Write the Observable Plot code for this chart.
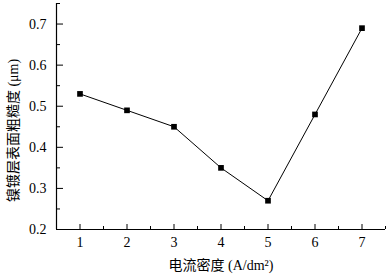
<!DOCTYPE html>
<html><head><meta charset="utf-8">
<script src="https://cdn.jsdelivr.net/npm/d3@7"></script>
<script src="https://cdn.jsdelivr.net/npm/@observablehq/plot@0.6"></script>
<style>body{margin:0;background:#fff}</style>
</head><body><div id="chart"></div>
<script>
const currentDensity = [1, 2, 3, 4, 5, 6, 7];
const roughness = [0.53, 0.49, 0.45, 0.35, 0.27, 0.48, 0.69];
const xTicks = [1, 2, 3, 4, 5, 6, 7];
const xMinorTicks = [1.5, 2.5, 3.5, 4.5, 5.5, 6.5, 7.5];
const yTicks = [0.2, 0.3, 0.4, 0.5, 0.6, 0.7];
const yMinorTicks = [0.25, 0.35, 0.45, 0.55, 0.65, 0.75];
const xLabel = "电流密度 (A/dm²)";
const yLabel = "镍镀层表面粗糙度 (μm)";

const data = currentDensity.map((x, i) => ({x, y: roughness[i]}));
const font = "'Liberation Serif','Noto Sans CJK SC',serif";

const chart = Plot.plot({
  width: 387, height: 277,
  marginLeft: 56, marginRight: 2, marginTop: 3, marginBottom: 48,
  style: {fontFamily: font, fontSize: "14px", color: "#000", background: "#fff"},
  x: {domain: [0.5, 7.5]},
  y: {domain: [0.2, 0.75]},
  marks: [
    Plot.axisX(xTicks, {tickSize: -5, tickFormat: () => "", label: null}),
    Plot.axisX(xMinorTicks, {tickSize: -3, tickFormat: () => "", label: null}),
    Plot.axisX(xTicks, {tickSize: 0, tickPadding: 8, tickFormat: d => String(d), fontSize: 14,
      label: xLabel, labelAnchor: "center", labelArrow: "none", labelOffset: 40}),
    Plot.axisY(yTicks, {tickSize: -7, tickFormat: () => "", label: null}),
    Plot.axisY(yMinorTicks, {tickSize: -4, tickFormat: () => "", label: null}),
    Plot.axisY(yTicks, {tickSize: 0, tickPadding: 10, tickFormat: d => d.toFixed(1), fontSize: 14, label: null}),
    Plot.text([yLabel], {frameAnchor: "left", textAnchor: "middle", rotate: -90, dx: -43, dy: 14, fontSize: 14, fill: "#000"}),
    Plot.ruleX([0.5], {stroke: "#000", strokeWidth: 1.2}),
    Plot.ruleY([0.2], {stroke: "#000", strokeWidth: 1.2}),
    Plot.line(data, {x: "x", y: "y", stroke: "#000", strokeWidth: 1}),
    Plot.dot(data, {x: "x", y: "y", symbol: "square", r: 3.2, fill: "#000", stroke: "none"})
  ]
});
document.getElementById("chart").append(chart);
</script>
</body></html>
